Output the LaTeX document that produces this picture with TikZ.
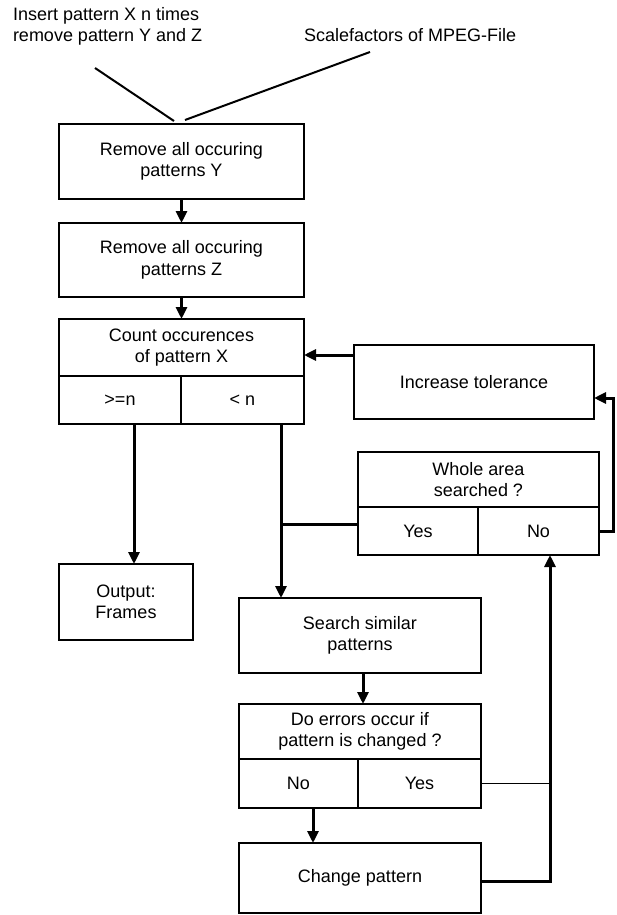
\documentclass[tikz,border=0pt]{standalone}
\usepackage{fontspec}
\setmainfont{Liberation Sans}
\usetikzlibrary{arrows.meta}
\begin{document}
\begin{tikzpicture}[x=1pt,y=-1pt,
  every node/.style={font=\fontsize{18}{21.5}\selectfont, inner sep=0pt, outer sep=0pt},
  box/.style={draw, line width=2.7pt, align=center},
  conn/.style={line width=3pt},
  thinconn/.style={line width=1.6pt},
  inline/.style={line width=2pt},
  arr/.style={line width=3pt, -{Triangle[length=12pt,width=11pt]}}
]
\useasboundingbox (0,0) rectangle (617,915);
% input texts
\node[anchor=north west, align=left] (ins) at (13,7) {Insert pattern X n times\\remove pattern Y and Z};
\node[anchor=base west] (scal) at (304,42) {Scalefactors of MPEG-File};
\coordinate (inA) at (95,68);
\coordinate (inB) at (370,52);
% boxes
\node[box, minimum width=245pt, minimum height=75pt] (b1) at (181.5,161.5) {Remove all occuring\\patterns Y};
\node[box, minimum width=245pt, minimum height=74pt] (b2) at (181.5,260) {Remove all occuring\\patterns Z};
\node[box, minimum width=245pt, minimum height=57pt] (count) at (181.5,347.5) {Count occurences\\of pattern X};
\node[box, minimum width=122pt, minimum height=48pt] (ge) at (120,400) {>=n};
\node[box, minimum width=123pt, minimum height=48pt] (lt) at (242.5,400) {< n};
\node[box, minimum width=240pt, minimum height=74pt] (tol) at (474,382) {Increase tolerance};
\node[box, minimum width=241pt, minimum height=55pt] (whole) at (478.5,479.5) {Whole area\\searched ?};
\node[box, minimum width=120pt, minimum height=48pt] (wyes) at (418,531) {Yes};
\node[box, minimum width=121pt, minimum height=48pt] (wno) at (538.5,531) {No};
\node[box, minimum width=134pt, minimum height=76pt] (out) at (126,602) {Output:\\Frames};
\node[box, minimum width=242pt, minimum height=75pt] (search) at (360,635.5) {Search similar\\patterns};
\node[box, minimum width=242pt, minimum height=55pt] (err) at (360,731.5) {Do errors occur if\\pattern is changed ?};
\node[box, minimum width=119pt, minimum height=49pt] (eno) at (298.5,783.5) {No};
\node[box, minimum width=123pt, minimum height=49pt] (eyes) at (419.5,783.5) {Yes};
\node[box, minimum width=242pt, minimum height=70pt] (change) at (360,878) {Change pattern};
% helper coordinates
\coordinate (ya) at (0,355);
\coordinate (yb) at (0,398);
\coordinate (yj) at (0,524);
\coordinate (yc) at (0,881);
\coordinate (xg) at (134,0);
\coordinate (xl) at (281,0);
\coordinate (xs) at (363,0);
\coordinate (xn) at (313,0);
\coordinate (xr) at (550,0);
% connectors
\draw[inline] (inA) -- ([xshift=-7.5pt,yshift=3pt]b1.north);
\draw[inline] (inB) -- ([xshift=3.5pt,yshift=4pt]b1.north);
\draw[arr] (b1) -- (b2);
\draw[arr] (b2) -- (count);
\draw[arr] (tol.west |- ya) -- (count.east |- ya);
\draw[arr] (wno.east) -- ++(14,0) |- (tol.east |- yb);
\draw[arr] (ge.south -| xg) -- (out.north -| xg);
\draw[arr] (lt.south -| xl) -- (search.north -| xl);
\draw[conn] (wyes.west |- yj) -- (xl |- yj);
\draw[arr] (search.south -| xs) -- (err.north -| xs);
\draw[arr] (eno.south -| xn) -- (change.north -| xn);
\draw[arr] (change.east |- yc) -| (wno.south -| xr);
\draw[thinconn] (eyes.east) -- (eyes.east -| xr);
\end{tikzpicture}
\end{document}
